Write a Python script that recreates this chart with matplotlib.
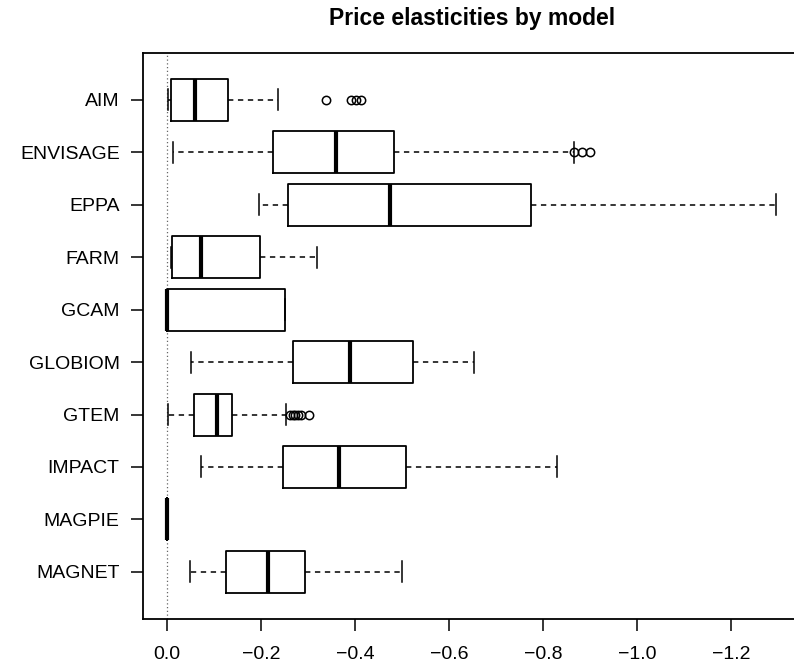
import numpy as np
import matplotlib
matplotlib.use("Agg")
import matplotlib.pyplot as plt

# price elasticities, one entry per model
models = ["AIM", "ENVISAGE", "EPPA", "FARM", "GCAM",
          "GLOBIOM", "GTEM", "IMPACT", "MAGPIE", "MAGNET"]
whislo = [-0.001, -0.013, -0.196, -0.008, 0.0, -0.050, -0.001, -0.073, 0.0, -0.048]
q1 = [-0.008, -0.226, -0.258, -0.010, 0.0, -0.269, -0.057, -0.246, 0.0, -0.126]
med = [-0.060, -0.360, -0.474, -0.072, 0.0, -0.389, -0.106, -0.366, 0.0, -0.214]
q3 = [-0.129, -0.484, -0.774, -0.198, -0.251, -0.524, -0.139, -0.508, 0.0, -0.293]
whishi = [-0.236, -0.865, -1.296, -0.320, -0.251, -0.654, -0.253, -0.829, 0.0, -0.501]
fliers = [
    [-0.338, -0.392, -0.402, -0.412],
    [-0.865, -0.883, -0.901],
    [], [], [], [],
    [-0.262, -0.268, -0.273, -0.278, -0.284, -0.303],
    [], [], [],
]
xticks = [0.0, -0.2, -0.4, -0.6, -0.8, -1.0, -1.2]

plt.rcParams['font.family'] = ['Liberation Sans', 'DejaVu Sans']

W, H = 794, 665
fig = plt.figure(figsize=(W / 100, H / 100), dpi=100)
# plot region in pixels (right edge runs past the picture as in the reference)
left, right, top, bottom = 142.6, 802.4, 52.8, 619.0
ax = fig.add_axes([left / W, 1 - bottom / H, (right - left) / W, (bottom - top) / H])

stats = []
for i, name in enumerate(models):
    stats.append(dict(label=name, whislo=whislo[i], q1=q1[i], med=med[i],
                      q3=q3[i], whishi=whishi[i], fliers=fliers[i]))

n = len(models)
positions = np.arange(n, 0, -1)
ax.bxp(stats, positions=positions, vert=False, widths=0.8,
       showfliers=True, patch_artist=False, manage_ticks=False,
       boxprops=dict(color="black", linewidth=1.3),
       medianprops=dict(color="black", linewidth=3.0, solid_capstyle="butt"),
       whiskerprops=dict(color="black", linewidth=1.1, linestyle=(0, (3.5, 3))),
       capprops=dict(color="black", linewidth=1.1),
       capwidths=0.4,
       flierprops=dict(marker="o", markerfacecolor="none", markeredgecolor="black",
                       markersize=6, markeredgewidth=1.1, linestyle="none"))

ax.axvline(0, color="#666666", linestyle=(0, (1, 2)), linewidth=0.9, zorder=0)

ax.set_xlim(0.052, -1.352)
ax.set_ylim(0.1, n + 0.9)
ax.set_xticks(xticks)
ax.set_xticklabels([f"{v:.1f}".replace("-", "\u2212") for v in xticks])
ax.set_yticks(positions)
ax.set_yticklabels(models)
ax.tick_params(axis="both", direction="out", length=8.5, width=1.1,
               labelsize=14, colors="black")
ax.tick_params(axis="y", pad=8)
ax.tick_params(axis="x", pad=11)
for s in ax.spines.values():
    s.set_linewidth(1.3)

fig.text((left + right) / 2 / W, 1 - 18 / H, "Price elasticities by model",
         ha="center", va="center", fontsize=16.5, fontweight="bold")

fig.savefig("out.png", dpi=100)
